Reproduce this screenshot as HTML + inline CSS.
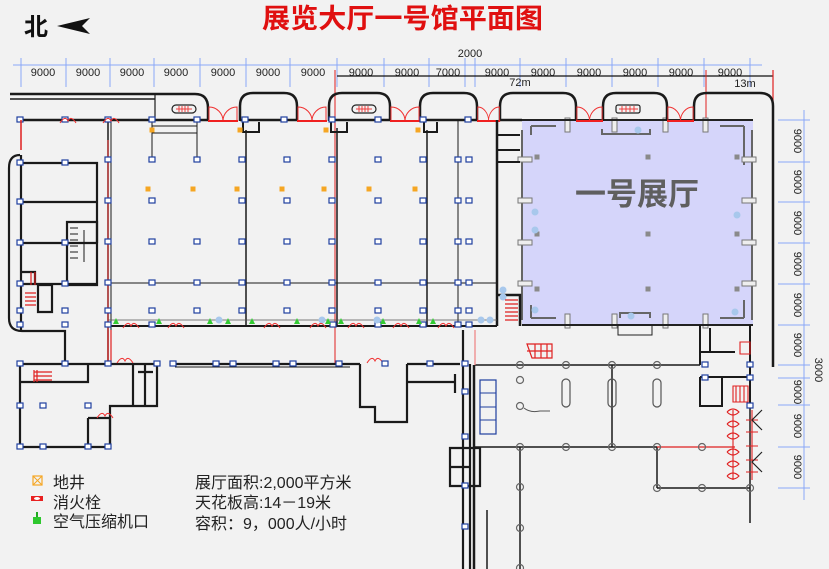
<!DOCTYPE html>
<html><head><meta charset="utf-8"><style>
html,body{margin:0;padding:0;background:#f2f2f2;}
svg{display:block;}
text{font-family:"Liberation Sans","Noto Sans CJK SC",sans-serif;}
</style></head><body>
<svg width="829" height="569" viewBox="0 0 829 569" xmlns="http://www.w3.org/2000/svg">
<rect width="829" height="569" fill="#f2f2f2"/>
<defs>
<g id="c"><rect x="-3" y="-3" width="6" height="5" fill="#fff" stroke="#1f3f9f" stroke-width="1.2"/></g>
<g id="o"><circle r="3.5" fill="none" stroke="#666" stroke-width="1.2"/></g>
<g id="dr"><path d="M1,0 L1,-14 A14,14 0 0 1 15,0 M29,0 L29,-14 A14,14 0 0 0 15,0" fill="none" stroke="#f03030" stroke-width="1"/><line x1="0" y1="0" x2="30" y2="0" stroke="#f02020" stroke-width="2"/></g>
<g id="sd"><path d="M0,0 q5,-8 8,-2 q3,-6 8,2" fill="none" stroke="#f03030" stroke-width="1"/></g>
<g id="mh"><rect x="-2.5" y="-2.5" width="5" height="5" fill="#f5a623"/></g>
<g id="gr"><path d="M-3,2 L0,-4 L3,2 Z" fill="#3c3"/></g>
<g id="gp"><rect x="-2.5" y="-2.5" width="5" height="5" fill="#8a8a8a"/></g>
<g id="bl"><circle r="3.5" fill="#a8c8ec"/></g>
</defs>

<!-- title -->
<text x="262" y="28" font-family="'Noto Serif CJK SC','Liberation Serif',serif" font-size="27" font-weight="bold" fill="#e01010" textLength="281" lengthAdjust="spacingAndGlyphs">展览大厅一号馆平面图</text>
<text x="24" y="35" font-size="24" font-weight="bold" fill="#111" font-family="'Liberation Sans','Noto Sans CJK SC',sans-serif">北</text>
<path d="M57,26 L90,18 L82,26 L90,34 Z" fill="#111"/>

<!-- top dimension -->
<g stroke="#8aa8f8" stroke-width="1">
<line x1="13" y1="65" x2="762" y2="65"/>
<line x1="21" y1="58" x2="21" y2="87"/><line x1="66" y1="58" x2="66" y2="87"/><line x1="110" y1="58" x2="110" y2="87"/><line x1="154" y1="58" x2="154" y2="87"/><line x1="200" y1="58" x2="200" y2="87"/><line x1="246" y1="58" x2="246" y2="87"/><line x1="290" y1="58" x2="290" y2="87"/><line x1="337" y1="58" x2="337" y2="87"/><line x1="384" y1="58" x2="384" y2="87"/><line x1="429" y1="58" x2="429" y2="87"/><line x1="465" y1="58" x2="465" y2="87"/><line x1="475" y1="58" x2="475" y2="87"/><line x1="520" y1="58" x2="520" y2="87"/><line x1="566" y1="58" x2="566" y2="87"/><line x1="612" y1="58" x2="612" y2="87"/><line x1="658" y1="58" x2="658" y2="87"/><line x1="704" y1="58" x2="704" y2="87"/><line x1="750" y1="58" x2="750" y2="87"/>
</g>
<g font-size="11" fill="#222" text-anchor="middle">
<text x="43" y="76">9000</text><text x="88" y="76">9000</text><text x="132" y="76">9000</text><text x="176" y="76">9000</text><text x="223" y="76">9000</text><text x="268" y="76">9000</text><text x="313" y="76">9000</text><text x="361" y="76">9000</text><text x="407" y="76">9000</text><text x="448" y="76">7000</text><text x="497" y="76">9000</text><text x="543" y="76">9000</text><text x="589" y="76">9000</text><text x="635" y="76">9000</text><text x="681" y="76">9000</text><text x="730" y="76">9000</text>
<text x="470" y="57">2000</text><text x="520" y="86">72m</text><text x="745" y="87">13m</text>
</g>
<line x1="337" y1="76" x2="773" y2="76" stroke="#111" stroke-width="1.2"/>
<line x1="335" y1="70" x2="335" y2="364" stroke="#e02020" stroke-width="1"/>
<line x1="773" y1="70" x2="773" y2="102" stroke="#e02020" stroke-width="1.2"/>
<line x1="706" y1="70" x2="706" y2="120" stroke="#e02020" stroke-width="1"/>

<!-- right dimension -->
<g stroke="#8aa8f8" stroke-width="1">
<line x1="804" y1="110" x2="804" y2="500"/>
<line x1="778" y1="120" x2="810" y2="120"/><line x1="778" y1="162" x2="810" y2="162"/><line x1="778" y1="202" x2="810" y2="202"/><line x1="778" y1="243" x2="810" y2="243"/><line x1="778" y1="284" x2="810" y2="284"/><line x1="778" y1="325" x2="810" y2="325"/><line x1="778" y1="365" x2="810" y2="365"/><line x1="778" y1="378" x2="810" y2="378"/><line x1="778" y1="405" x2="810" y2="405"/><line x1="778" y1="447" x2="810" y2="447"/><line x1="778" y1="488" x2="810" y2="488"/>
</g>
<g font-size="11" fill="#222" text-anchor="middle">
<text transform="translate(794,141) rotate(90)">9000</text>
<text transform="translate(794,182) rotate(90)">9000</text>
<text transform="translate(794,223) rotate(90)">9000</text>
<text transform="translate(794,264) rotate(90)">9000</text>
<text transform="translate(794,305) rotate(90)">9000</text>
<text transform="translate(794,345) rotate(90)">9000</text>
<text transform="translate(794,392) rotate(90)">9000</text>
<text transform="translate(794,426) rotate(90)">9000</text>
<text transform="translate(794,467) rotate(90)">9000</text>
<text transform="translate(815,370) rotate(90)">3000</text>
</g>

<!-- hall -->
<rect x="522" y="120" width="231" height="204" fill="#d5d5fa"/>
<text x="637" y="205" text-anchor="middle" font-family="'Noto Serif CJK SC','Liberation Serif',serif" font-size="31" font-weight="bold" fill="#5f5f5f">一号展厅</text>
<g fill="none" stroke="#666" stroke-width="2">
<path d="M531,126 L531,135 M531,126 L556,126"/><path d="M744,126 L744,165 M720,126 L744,126"/>
<path d="M531,318 L531,305 M531,318 L556,318"/><path d="M744,318 L744,300 M720,318 L744,318"/>
<line x1="522" y1="130" x2="522" y2="320"/><line x1="752" y1="130" x2="752" y2="320"/>
<path d="M602,129 L602,134 L650,134 L650,129"/><path d="M620,318 L620,313 L650,313 L650,318"/>
</g>
<g fill="#eee" stroke="#777" stroke-width="1">
<rect x="565" y="118" width="5" height="14"/><rect x="612" y="118" width="5" height="14"/><rect x="565" y="314" width="5" height="14"/><rect x="612" y="314" width="5" height="14"/><rect x="703" y="118" width="5" height="14"/><rect x="703" y="314" width="5" height="14"/><rect x="663" y="314" width="5" height="14"/><rect x="663" y="118" width="5" height="14"/>
<rect x="518" y="157" width="14" height="5"/><rect x="518" y="198" width="14" height="5"/><rect x="518" y="240" width="14" height="5"/><rect x="518" y="281" width="14" height="5"/>
<rect x="742" y="157" width="14" height="5"/><rect x="742" y="198" width="14" height="5"/><rect x="742" y="240" width="14" height="5"/><rect x="742" y="281" width="14" height="5"/>
</g>
<use href="#gp" x="537" y="157"/><use href="#gp" x="648" y="157"/><use href="#gp" x="737" y="157"/><use href="#gp" x="537" y="234"/><use href="#gp" x="648" y="234"/><use href="#gp" x="737" y="234"/><use href="#gp" x="537" y="289"/><use href="#gp" x="648" y="289"/><use href="#gp" x="737" y="289"/>
<use href="#bl" x="535" y="212"/><use href="#bl" x="535" y="230"/><use href="#bl" x="535" y="310"/><use href="#bl" x="737" y="215"/><use href="#bl" x="735" y="312"/><use href="#bl" x="638" y="130"/><use href="#bl" x="631" y="316"/>
<line x1="522" y1="120" x2="753" y2="120" stroke="#222" stroke-width="2"/>
<line x1="522" y1="325" x2="753" y2="325" stroke="#222" stroke-width="2"/>
<rect x="618" y="325" width="34" height="10" fill="none" stroke="#222" stroke-width="1"/>

<!-- top outline / arches -->
<g fill="none" stroke="#1a1a1a" stroke-width="2.5">
<path d="M10,94 L195,94 Q208,94 208,108 L208,121"/>
<path d="M240,121 L240,106 Q240,93 253,93 L284,93 Q297,93 297,106 L297,121"/>
<path d="M329,121 L329,106 Q329,93 342,93 L377,93 Q390,93 390,106 L390,121"/>
<path d="M420,121 L420,106 Q420,93 433,93 L464,93 Q477,93 477,106 L477,121"/>
<path d="M500,121 L500,106 Q500,93 513,93 L563,93 Q576,93 576,106 L576,121"/>
<path d="M603,121 L603,106 Q603,93 616,93 L654,93 Q667,93 667,106 L667,121"/>
<path d="M694,121 L694,106 Q694,93 707,93 L760,93 Q773,93 773,106 L773,367"/>
<path d="M20,120 L208,120 M240,120 L297,120 M329,120 L390,120 M420,120 L477,120 M500,120 L522,120"/>
</g>
<line x1="10" y1="99" x2="155" y2="99" stroke="#1a1a1a" stroke-width="1.5"/>
<line x1="155" y1="95" x2="155" y2="120" stroke="#1a1a1a" stroke-width="1.2"/>
<use href="#dr" x="208" y="121"/><use href="#dr" x="297" y="121"/><use href="#dr" x="390" y="121"/><use href="#dr" x="477" y="121" transform="translate(477,121) scale(0.77,1) translate(-477,-121)"/><use href="#dr" x="576" y="121" transform="translate(576,121) scale(0.9,1) translate(-576,-121)"/><use href="#dr" x="667" y="121" transform="translate(667,121) scale(0.9,1) translate(-667,-121)"/>
<g fill="none" stroke="#222" stroke-width="1.2"><rect x="172" y="105" width="24" height="8" rx="4"/><rect x="352" y="105" width="24" height="8" rx="4"/><rect x="616" y="105" width="24" height="8" rx="2"/></g>
<g stroke="#f04040" stroke-width="1"><path d="M179,106 L179,112 M182,106 L182,112 M185,106 L185,112 M188,106 L188,112 M359,106 L359,112 M362,106 L362,112 M365,106 L365,112 M368,106 L368,112 M622,106 L622,112 M626,106 L626,112 M630,106 L630,112 M634,106 L634,112 M176,109 L192,109 M356,109 L372,109 M619,109 L638,109"/></g>

<!-- exhibition area structure -->
<g stroke="#1a1a1a" fill="none">
<line x1="108" y1="120" x2="108" y2="364" stroke-width="1.5"/><line x1="111" y1="120" x2="111" y2="330" stroke-width="1"/>
<line x1="246" y1="130" x2="246" y2="326" stroke-width="1.5"/>
<line x1="337" y1="128" x2="337" y2="326" stroke-width="1.5"/>
<line x1="427" y1="130" x2="427" y2="326" stroke-width="1.5"/>
<line x1="458" y1="120" x2="458" y2="326" stroke-width="1"/>
<line x1="497" y1="120" x2="497" y2="326" stroke-width="2.5"/>
<line x1="152" y1="120" x2="152" y2="160" stroke-width="1"/><line x1="197" y1="120" x2="197" y2="160" stroke-width="1"/>
<line x1="152" y1="126" x2="197" y2="126" stroke-width="1"/><line x1="152" y1="133" x2="197" y2="133" stroke-width="1"/>
<line x1="108" y1="283" x2="497" y2="283" stroke-width="1"/>
<line x1="108" y1="326" x2="497" y2="326" stroke-width="2"/>
<line x1="108" y1="320" x2="497" y2="320" stroke-width="0.8" stroke="#555"/>
<path d="M243,120 L243,132 L259,132 L259,122 M331,120 L331,132 L347,132 L347,122 M424,120 L424,132 L437,132 L437,122" stroke-width="2"/>
<path d="M497,150 L520,150 M497,162 L520,162 M497,135 L520,135" stroke-width="2"/>
<path d="M497,295 L520,295 L520,326" stroke-width="2.5"/>
</g>
<line x1="108" y1="140" x2="108" y2="360" stroke="#e02020" stroke-width="1"/>
<g>
<use href="#c" x="152" y="160"/><use href="#c" x="197" y="160"/><use href="#c" x="242" y="160"/><use href="#c" x="287" y="160"/><use href="#c" x="332" y="160"/><use href="#c" x="378" y="160"/><use href="#c" x="423" y="160"/><use href="#c" x="458" y="160"/><use href="#c" x="469" y="160"/>
<use href="#c" x="152" y="201"/><use href="#c" x="242" y="201"/><use href="#c" x="287" y="201"/><use href="#c" x="332" y="201"/><use href="#c" x="378" y="201"/><use href="#c" x="423" y="201"/><use href="#c" x="458" y="201"/><use href="#c" x="469" y="201"/>
<use href="#c" x="152" y="242"/><use href="#c" x="197" y="242"/><use href="#c" x="242" y="242"/><use href="#c" x="287" y="242"/><use href="#c" x="332" y="242"/><use href="#c" x="378" y="242"/><use href="#c" x="423" y="242"/><use href="#c" x="458" y="242"/><use href="#c" x="469" y="242"/>
<use href="#c" x="152" y="283"/><use href="#c" x="197" y="283"/><use href="#c" x="242" y="283"/><use href="#c" x="287" y="283"/><use href="#c" x="332" y="283"/><use href="#c" x="378" y="283"/><use href="#c" x="423" y="283"/><use href="#c" x="458" y="283"/><use href="#c" x="469" y="283"/>
<use href="#c" x="152" y="311"/><use href="#c" x="197" y="311"/><use href="#c" x="242" y="311"/><use href="#c" x="287" y="311"/><use href="#c" x="332" y="311"/><use href="#c" x="378" y="311"/><use href="#c" x="423" y="311"/><use href="#c" x="458" y="311"/><use href="#c" x="469" y="311"/>
<use href="#c" x="20" y="120"/><use href="#c" x="65" y="120"/><use href="#c" x="108" y="120"/><use href="#c" x="152" y="120"/><use href="#c" x="197" y="120"/><use href="#c" x="245" y="120"/><use href="#c" x="284" y="120"/><use href="#c" x="332" y="120"/><use href="#c" x="378" y="120"/><use href="#c" x="423" y="120"/><use href="#c" x="468" y="120"/>
<use href="#c" x="108" y="160"/><use href="#c" x="108" y="201"/><use href="#c" x="108" y="242"/><use href="#c" x="108" y="283"/><use href="#c" x="108" y="311"/><use href="#c" x="108" y="325"/><use href="#c" x="152" y="325"/><use href="#c" x="333" y="325"/><use href="#c" x="378" y="325"/><use href="#c" x="423" y="325"/><use href="#c" x="458" y="325"/><use href="#c" x="469" y="325"/>
</g>
<use href="#mh" x="152" y="130"/><use href="#mh" x="240" y="130"/><use href="#mh" x="326" y="130"/><use href="#mh" x="418" y="130"/>
<use href="#mh" x="148" y="189"/><use href="#mh" x="193" y="189"/><use href="#mh" x="237" y="189"/><use href="#mh" x="282" y="189"/><use href="#mh" x="324" y="189"/><use href="#mh" x="369" y="189"/><use href="#mh" x="415" y="189"/>
<use href="#gr" x="116" y="322"/><use href="#gr" x="159" y="322"/><use href="#gr" x="210" y="322"/><use href="#gr" x="252" y="322"/><use href="#gr" x="297" y="322"/><use href="#gr" x="341" y="322"/><use href="#gr" x="383" y="322"/><use href="#gr" x="433" y="322"/>
<use href="#gr" x="228" y="322"/><use href="#gr" x="328" y="322"/><use href="#gr" x="419" y="322"/>
<use href="#bl" x="219" y="320"/><use href="#bl" x="322" y="320"/><use href="#bl" x="377" y="320"/><use href="#bl" x="481" y="320"/><use href="#bl" x="490" y="320"/><use href="#bl" x="503" y="290"/><use href="#bl" x="503" y="297"/>
<use href="#sd" x="123" y="328"/><use href="#sd" x="168" y="328"/><use href="#sd" x="264" y="328"/><use href="#sd" x="310" y="328"/><use href="#sd" x="348" y="328"/><use href="#sd" x="393" y="328"/><use href="#sd" x="438" y="328"/><use href="#sd" x="103" y="123"/><use href="#sd" x="60" y="123"/>
<g fill="none" stroke="#e02020" stroke-width="1.3"><path d="M505,300 L518,300 M505,304 L518,304 M505,308 L518,308 M505,312 L518,312 M505,316 L518,316 M505,320 L518,320"/></g>

<!-- left rooms -->
<g stroke="#1a1a1a" fill="none" stroke-width="2.2">
<path d="M20,155 Q9,155 9,168 L9,318 Q9,331 22,331"/>
<line x1="21" y1="155" x2="21" y2="331"/>
<path d="M21,163 L97,163 L97,243 M21,202 L97,202 M21,243 L97,243 M21,284 L97,284"/>
<path d="M67,222 L97,222 L97,285 L67,285 Z"/>
<path d="M21,272 L35,272 L35,285"/>
<path d="M38,285 L52,285 L52,312 L38,312 Z"/>
<path d="M22,331 L65,331 L65,364"/>
</g>
<g stroke="#1a1a1a" stroke-width="1"><path d="M70,228 L78,228 M70,234 L78,234 M70,240 L78,240 M70,246 L78,246 M70,252 L78,252 M70,258 L78,258"/><path d="M84,230 L84,262"/></g>
<g stroke="#e02020" stroke-width="1.2"><path d="M25,293 L36,293 M25,297 L36,297 M25,301 L36,301 M25,305 L36,305"/><path d="M31,272 L31,285 M35,272 L35,285"/></g>
<line x1="21" y1="120" x2="21" y2="150" stroke="#e02020" stroke-width="1.5"/>
<use href="#c" x="20" y="163"/><use href="#c" x="65" y="163"/><use href="#c" x="20" y="202"/><use href="#c" x="20" y="243"/><use href="#c" x="65" y="243"/><use href="#c" x="20" y="284"/><use href="#c" x="65" y="284"/><use href="#c" x="20" y="311"/><use href="#c" x="65" y="311"/><use href="#c" x="20" y="325"/><use href="#c" x="65" y="325"/>

<!-- lower left building -->
<g stroke="#1a1a1a" fill="none" stroke-width="2.2">
<path d="M20,364 L20,447 L110,447 L110,406 L157,406 L157,364"/>
<line x1="20" y1="364" x2="160" y2="364"/>
<path d="M20,382 L88,382 L88,364 M88,382 L66,382"/>
<path d="M88,418 L110,418 L110,447"/>
<line x1="88" y1="418" x2="88" y2="447"/>
<path d="M133,364 L133,406 M145,364 L145,406 M138,372 L153,372"/>
<line x1="170" y1="364" x2="360" y2="364"/>
<path d="M360,364 L360,407 L375,407 L375,422 L407,422 L407,364"/>
<line x1="407" y1="364" x2="460" y2="364"/>
<path d="M407,382 L455,382 M455,374 L455,393"/>
<path d="M463,330 L463,569 M470,364 L470,569"/>
<path d="M450,448 L480,448 L480,486 L450,486 Z M450,467 L470,467"/>
</g>
<line x1="175" y1="367" x2="350" y2="367" stroke="#1a1a1a" stroke-width="1"/>
<g stroke="#e02020" stroke-width="1.2"><path d="M34,370 L34,382 M37,370 L37,382 M34,372 L52,372 M34,376 L52,376 M34,380 L52,380"/><path d="M108,364 L108,330 M111,364 L111,330"/></g>
<use href="#sd" x="117" y="363"/><use href="#sd" x="367" y="363"/><use href="#sd" x="97" y="418"/>
<use href="#c" x="20" y="364"/><use href="#c" x="65" y="364"/><use href="#c" x="108" y="364"/><use href="#c" x="157" y="364"/><use href="#c" x="173" y="364"/><use href="#c" x="216" y="364"/><use href="#c" x="233" y="364"/><use href="#c" x="276" y="364"/><use href="#c" x="293" y="364"/><use href="#c" x="339" y="364"/><use href="#c" x="385" y="364"/><use href="#c" x="430" y="364"/><use href="#c" x="465" y="364"/>
<use href="#c" x="20" y="406"/><use href="#c" x="43" y="406"/><use href="#c" x="88" y="406"/><use href="#c" x="20" y="447"/><use href="#c" x="43" y="447"/><use href="#c" x="88" y="447"/><use href="#c" x="108" y="447"/>
<use href="#c" x="465" y="392"/><use href="#c" x="465" y="437"/><use href="#c" x="465" y="486"/><use href="#c" x="465" y="527"/>

<!-- lower right -->
<g stroke="#1a1a1a" fill="none" stroke-width="1.5">
<line x1="475" y1="365" x2="700" y2="365"/>
<line x1="475" y1="447" x2="657" y2="447"/>
<line x1="657" y1="447" x2="657" y2="488"/><line x1="657" y1="488" x2="750" y2="488"/>
<line x1="520" y1="447" x2="520" y2="569"/>
<line x1="612" y1="365" x2="612" y2="447"/>
<line x1="750" y1="408" x2="750" y2="523"/>
<line x1="474" y1="365" x2="474" y2="569" stroke-width="2.5"/>
<line x1="487" y1="510" x2="487" y2="569"/>
</g>
<line x1="657" y1="447" x2="735" y2="447" stroke="#e02020" stroke-width="1.2"/>
<line x1="475" y1="330" x2="475" y2="365" stroke="#f08080" stroke-width="1.2"/>
<rect x="480" y="380" width="16" height="54" fill="none" stroke="#1f3f9f" stroke-width="1.2"/>
<path d="M480,393 L496,393 M480,407 L496,407 M480,420 L496,420" stroke="#1f3f9f" stroke-width="1"/>
<g fill="none" stroke="#555" stroke-width="1.2">
<rect x="562" y="379" width="8" height="28" rx="4"/><rect x="608" y="379" width="8" height="28" rx="4"/><rect x="653" y="379" width="8" height="28" rx="4"/>
</g>
<use href="#o" x="520" y="365"/><use href="#o" x="566" y="365"/><use href="#o" x="612" y="365"/><use href="#o" x="657" y="365"/><use href="#o" x="520" y="380"/><use href="#o" x="520" y="406"/>
<use href="#o" x="520" y="447"/><use href="#o" x="566" y="447"/><use href="#o" x="612" y="447"/><use href="#o" x="657" y="447"/><use href="#o" x="702" y="447"/>
<use href="#o" x="657" y="488"/><use href="#o" x="702" y="488"/><use href="#o" x="750" y="488"/>
<use href="#o" x="520" y="487"/><use href="#o" x="520" y="528"/><use href="#o" x="520" y="568"/>
<path d="M524,408 Q530,413 540,411 L550,411" fill="none" stroke="#555" stroke-width="1"/>
<g fill="none" stroke="#e02020" stroke-width="1.2"><path d="M527,344 L552,344 L552,358 L532,358 Z M535,344 L535,358 M541,344 L541,358 M547,344 L547,358 M527,351 L552,351"/></g>
<g stroke="#1a1a1a" fill="none" stroke-width="2">
<path d="M700,325 L700,365 M750,325 L750,408 M700,352 L735,352 M710,328 L710,352 M700,377 L750,377 M700,377 L700,406 L712,406 M722,377 L722,406 L700,406"/>
</g>
<g stroke="#e02020" fill="none" stroke-width="1.1">
<path d="M733,410 L733,480 M752,410 L752,480"/>
<path d="M727,412 q6,6 12,0 q-6,-6 -12,0 M727,424 q6,6 12,0 q-6,-6 -12,0 M727,436 q6,6 12,0 q-6,-6 -12,0 M727,452 q6,6 12,0 q-6,-6 -12,0 M727,464 q6,6 12,0 q-6,-6 -12,0 M727,476 q6,6 12,0 q-6,-6 -12,0"/>
<path d="M746,420 L758,420 M746,432 L758,432 M746,446 L758,446 M746,460 L758,460 M746,472 L758,472"/>
<path d="M740,342 L750,342 L750,354 L740,354 Z M733,386 L748,386 L748,402 L733,402 Z M736,386 L736,402 M740,386 L740,402 M744,386 L744,402"/>
</g>
<path d="M762,410 L752,420 L762,430 M762,452 L752,462 L762,472" fill="none" stroke="#222" stroke-width="1.2"/>
<use href="#c" x="705" y="365"/><use href="#c" x="750" y="365"/><use href="#c" x="705" y="378"/><use href="#c" x="750" y="378"/><use href="#c" x="750" y="406"/>

<!-- legend -->
<rect x="33" y="476" width="9" height="9" fill="none" stroke="#f5a623" stroke-width="1.2"/>
<path d="M33,476 L42,485 M42,476 L33,485" stroke="#f5a623" stroke-width="1"/>
<rect x="31" y="496" width="12" height="5" fill="#e82020"/><ellipse cx="37" cy="498.5" rx="3" ry="1.5" fill="#fff"/>
<rect x="33" y="517" width="8" height="7" fill="#2ec82e"/><rect x="36" y="512" width="2" height="5" fill="#2a2"/>
<g font-size="16" fill="#222">
<text x="53" y="488">地井</text>
<text x="53" y="508">消火栓</text>
<text x="53" y="527">空气压缩机口</text>
<text x="195" y="488">展厅面积:2,000平方米</text>
<text x="195" y="508">天花板高:14－19米</text>
<text x="195" y="529">容积：9，000人/小时</text>
</g>
</svg>
</body></html>
